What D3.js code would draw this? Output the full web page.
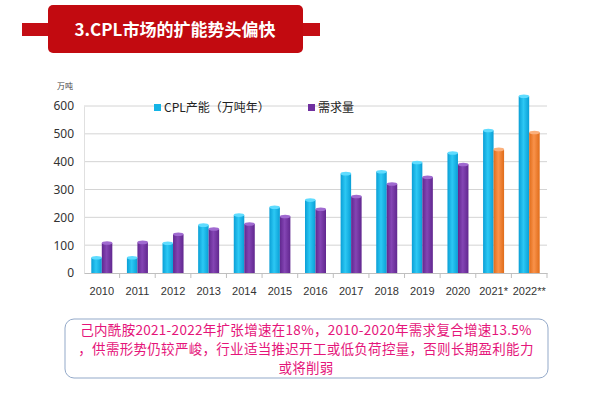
<!DOCTYPE html>
<html>
<head>
<meta charset="utf-8">
<script src="https://cdn.jsdelivr.net/npm/d3@7"></script>
<style>
  body { margin: 0; background: #fff; }
  svg { display: block; font-family: "Noto Sans CJK SC", "Noto Sans", sans-serif; }
</style>
</head>
<body>
<svg id="chart" width="600" height="396"></svg>
<script>
// ----- data -----
const years = ["2010", "2011", "2012", "2013", "2014", "2015", "2016", "2017", "2018", "2019", "2020", "2021*", "2022**"];
const capacity = [55, 55, 107, 172, 208, 236, 262, 357, 364, 397, 431, 512, 635];
const demand = [108, 110, 139, 158, 176, 203, 229, 275, 320, 344, 390, 444, 505];
const yTicks = [0, 100, 200, 300, 400, 500, 600];
const seriesNames = ["CPL产能（万吨年）", "需求量"];
const forecastYears = ["2021*", "2022**"];

const noteLines = [
  "己内酰胺2021-2022年扩张增速在18%，2010-2020年需求复合增速13.5%",
  "，供需形势仍较严峻，行业适当推迟开工或低负荷控量，否则长期盈利能力",
  "或将削弱"
];

const svg = d3.select("#chart");

// ----- gradients for the cylinder look -----
const defs = svg.append("defs");
function addGrad(id, dark, mid) {
  const g = defs.append("linearGradient").attr("id", id)
    .attr("x1", "0").attr("x2", "1").attr("y1", "0").attr("y2", "0");
  g.append("stop").attr("offset", "0%").attr("stop-color", dark);
  g.append("stop").attr("offset", "45%").attr("stop-color", mid);
  g.append("stop").attr("offset", "100%").attr("stop-color", dark);
}
addGrad("gCap", "#0a9fd6", "#2cc8f4");
addGrad("gDem", "#61278f", "#8445b4");
addGrad("gFc", "#e06c1a", "#f9924a");

// ----- title banner -----
svg.append("rect")
  .attr("x", 22).attr("y", 23).attr("width", 298).attr("height", 13)
  .attr("fill", "#c40d14");
svg.append("rect")
  .attr("x", 48).attr("y", 5).attr("width", 255).attr("height", 48)
  .attr("rx", 5)
  .attr("fill", "#c20a10");
svg.append("text")
  .attr("x", 175).attr("y", 36)
  .attr("text-anchor", "middle")
  .attr("fill", "#fff")
  .style("font-size", "17px")
  .style("font-weight", "700")
  .text("3.CPL市场的扩能势头偏快");

// ----- chart -----
const margin = { top: 106, left: 84, right: 53, bottom: 123 };
const width = 600 - margin.left - margin.right;
const height = 396 - margin.top - margin.bottom;

const g = svg.append("g").attr("transform", `translate(${margin.left},${margin.top})`);

const x = d3.scaleBand().domain(years).range([0, width]);
const inner = d3.scaleBand().domain(["cap", "dem"]).range([x.bandwidth() / 2 - 10.5, x.bandwidth() / 2 + 10.5]);
const y = d3.scaleLinear().domain([0, 600]).range([height, 0]);

// gridlines
g.append("g")
  .selectAll("line")
  .data(yTicks.slice(1))
  .enter()
  .append("line")
  .attr("x1", 0).attr("x2", width)
  .attr("y1", d => y(d)).attr("y2", d => y(d))
  .attr("stroke", "#d4d4d4").attr("stroke-width", 1);

// y axis
const yAxis = g.append("g")
  .call(d3.axisLeft(y).tickValues(yTicks).tickSize(0).tickPadding(10));
yAxis.select(".domain").attr("stroke", "#e0e0e0");
yAxis.selectAll("text")
  .style("font-size", "12px")
  .style("font-family", "'Noto Sans', sans-serif")
  .style("fill", "#333");

svg.append("text")
  .attr("x", 57).attr("y", 89)
  .style("font-size", "8px")
  .style("fill", "#444")
  .text("万吨");

// x axis
const xAxis = g.append("g")
  .attr("transform", `translate(0,${height})`)
  .call(d3.axisBottom(x).tickSize(0).tickPadding(14));
xAxis.select(".domain").attr("stroke", "#bfbfbf");
xAxis.selectAll("text")
  .style("font-size", "11px")
  .style("font-family", "'Liberation Sans', sans-serif")
  .style("fill", "#333");
// ticks between categories
g.append("g")
  .selectAll("line")
  .data(years)
  .enter()
  .append("line")
  .attr("x1", d => x(d) + x.bandwidth()).attr("x2", d => x(d) + x.bandwidth())
  .attr("y1", height).attr("y2", height + 5)
  .attr("stroke", "#bfbfbf");

// bars
const rows = years.map((yr, i) => [
  { year: yr, key: "cap", value: capacity[i], fill: "url(#gCap)", top: "#5fdcff" },
  {
    year: yr, key: "dem", value: demand[i],
    fill: forecastYears.includes(yr) ? "url(#gFc)" : "url(#gDem)",
    top: forecastYears.includes(yr) ? "#fbb07c" : "#a06ad0"
  }
]).flat();

const bw = inner.bandwidth();
g.selectAll(".bar")
  .data(rows)
  .enter()
  .append("rect")
  .attr("class", "bar")
  .attr("x", d => x(d.year) + inner(d.key))
  .attr("y", d => y(d.value))
  .attr("width", bw)
  .attr("height", d => height - y(d.value))
  .attr("fill", d => d.fill);

g.selectAll(".cap-top")
  .data(rows)
  .enter()
  .append("ellipse")
  .attr("class", "cap-top")
  .attr("cx", d => x(d.year) + inner(d.key) + bw / 2)
  .attr("cy", d => y(d.value))
  .attr("rx", bw / 2)
  .attr("ry", 1.8)
  .attr("fill", d => d.top);

// legend
const legend = svg.append("g");
const legendItems = [
  { name: seriesNames[0], color: "#14b4e6", x: 154 },
  { name: seriesNames[1], color: "#7030a0", x: 308 }
];
legend.selectAll("rect")
  .data(legendItems)
  .enter()
  .append("rect")
  .attr("x", d => d.x).attr("y", 104)
  .attr("width", 7).attr("height", 7)
  .attr("fill", d => d.color);
legend.selectAll("text")
  .data(legendItems)
  .enter()
  .append("text")
  .attr("x", d => d.x + 10).attr("y", 112)
  .style("font-size", "12px")
  .style("fill", "#222")
  .text(d => d.name);

// note box
svg.append("rect")
  .attr("x", 65).attr("y", 319).attr("width", 483).attr("height", 59)
  .attr("rx", 9)
  .attr("fill", "#fff")
  .attr("stroke", "#93a9c9")
  .attr("stroke-width", 1);

svg.append("g")
  .selectAll("text")
  .data(noteLines)
  .enter()
  .append("text")
  .attr("x", 306)
  .attr("y", (d, i) => 335 + i * 19)
  .attr("text-anchor", "middle")
  .style("font-size", "13.5px")
  .style("letter-spacing", "0.3px")
  .style("fill", "#e5157a")
  .text(d => d);
</script>
</body>
</html>
